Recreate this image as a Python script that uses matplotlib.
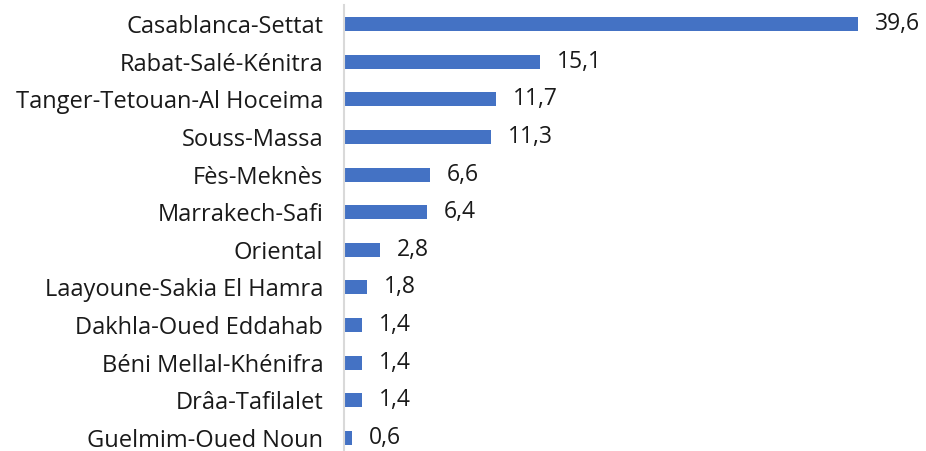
import matplotlib
matplotlib.use("Agg")
import matplotlib.pyplot as plt

regions = ["Casablanca-Settat", "Rabat-Salé-Kénitra", "Tanger-Tetouan-Al Hoceima",
           "Souss-Massa", "Fès-Meknès", "Marrakech-Safi", "Oriental",
           "Laayoune-Sakia El Hamra", "Dakhla-Oued Eddahab", "Béni Mellal-Khénifra",
           "Drâa-Tafilalet", "Guelmim-Oued Noun"]
values = [39.6, 15.1, 11.7, 11.3, 6.6, 6.4, 2.8, 1.8, 1.4, 1.4, 1.4, 0.6]
value_labels = ["39,6", "15,1", "11,7", "11,3", "6,6", "6,4", "2,8", "1,8", "1,4", "1,4", "1,4", "0,6"]

plt.rcParams['font.family'] = ['Open Sans', 'DejaVu Sans']

W, H = 926, 451
fig = plt.figure(figsize=(W/100, H/100), dpi=100)
left_px, right_px, top_px, bot_px = 344, 926, 5, 451
ax = fig.add_axes([left_px/W, 1 - bot_px/H, (right_px-left_px)/W, (bot_px-top_px)/H])

y = list(range(len(regions)))
ax.barh(y, values, height=0.37, color="#4472C4")
scale = (858 - 344) / 39.6
ax.set_xlim(0, (right_px - left_px) / scale)
ax.set_ylim(11.346, -0.505)
ax.set_yticks(y)
ax.set_yticklabels(regions, fontsize=17, color="#1a1a1a")
ax.tick_params(axis='y', length=0, pad=15)
ax.set_xticks([])
for s in ["top", "right", "bottom"]:
    ax.spines[s].set_visible(False)
ax.spines["left"].set_color("#d9d9d9")
ax.spines["left"].set_linewidth(1.5)
for yi, v, lab in zip(y, values, value_labels):
    ax.text(v + 17/scale, yi, lab, va="center", ha="left", fontsize=16.5, color="#1a1a1a")

fig.savefig("out.png", dpi=100)
